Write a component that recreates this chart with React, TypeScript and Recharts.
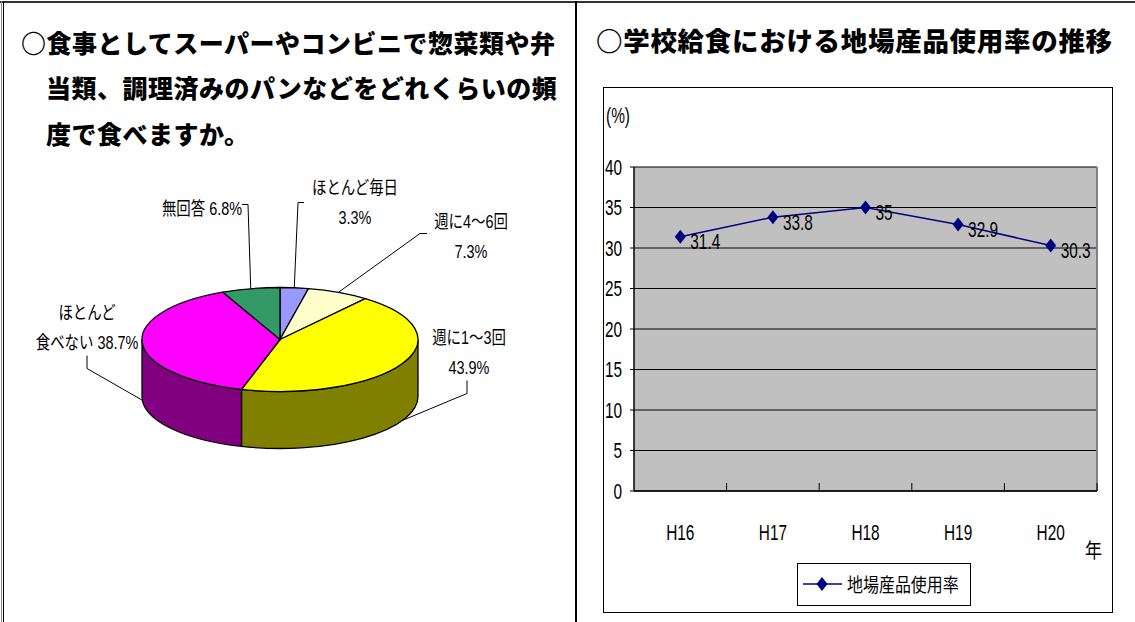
import React from "react";
import {
  CartesianGrid,
  LabelList,
  Line,
  LineChart,
  Pie,
  PieChart,
  XAxis,
  YAxis,
} from "recharts";

// 惣菜・弁当の購入頻度
const categories = ["ほとんど毎日", "週に4～6回", "週に1～3回", "ほとんど\n食べない", "無回答"];
const shares = [3.3, 7.3, 43.9, 38.7, 6.8];
const sliceColors = ["#9999FF", "#FFFFCC", "#FFFF00", "#FF00FF", "#339966"];

// 地場産品使用率
const years = ["H16", "H17", "H18", "H19", "H20"];
const rates = [31.4, 33.8, 35, 32.9, 30.3];
const rateTicks = [0, 5, 10, 15, 20, 25, 30, 35, 40];

const pieData = categories.map((name, i) => ({ name, value: shares[i], fill: sliceColors[i] }));
const lineData = years.map((year, i) => ({ year, rate: rates[i] }));

const SANS = "'Liberation Sans', 'Noto Sans CJK JP', sans-serif";
const JP = "'Noto Sans CJK JP', sans-serif";
const NAVY = "#000080";

// flattened pie
const TILT = 52 / 138;
const DEPTH = 57;

// label placement around the pie, relative to its centre: text, elbow, leader end
const labelLayout = [
  { tx: 75, ty: -152, ex: 18, ey: -137, fx: 24, fy: -137, inline: false },
  { tx: 191, ty: -118, ex: 140, ey: -106, fx: 147, fy: -106, inline: false },
  { tx: 189, ty: -2, ex: 187, ey: 54, fx: 187, fy: 41, inline: false },
  { tx: -193, ty: -27, ex: -193, ey: 29, fx: -193, fy: 16, inline: true },
  { tx: -78, ty: -131, ex: -32, ey: -135, fx: -38, fy: -135, inline: true },
];

function ellipsePoint(cx: number, cy: number, rx: number, ry: number, deg: number) {
  const r = (deg * Math.PI) / 180;
  return [cx + rx * Math.cos(r), cy - ry * Math.sin(r)];
}

function shade(hex: string, k: number) {
  const n = parseInt(hex.slice(1), 16);
  const r = Math.round(((n >> 16) & 255) * k);
  const g = Math.round(((n >> 8) & 255) * k);
  const b = Math.round((n & 255) * k);
  return `rgb(${r},${g},${b})`;
}

// condensed text: squeeze horizontally around the anchor point
function NarrowText(props: {
  x: number;
  y: number;
  size: number;
  squeeze: number;
  anchor?: "start" | "middle" | "end";
  family?: string;
  children: React.ReactNode;
}) {
  const { x, y, size, squeeze, anchor = "start", family = SANS, children } = props;
  return (
    <text
      transform={`translate(${x},${y}) scale(${squeeze},1)`}
      textAnchor={anchor}
      dominantBaseline="central"
      fontFamily={family}
      fontSize={size}
      fill="#000"
    >
      {children}
    </text>
  );
}

function Slice3D(props: any) {
  const { cx, cy, outerRadius, startAngle, endAngle, fill } = props;
  const rx = outerRadius;
  const ry = outerRadius * TILT;
  const [x0, y0] = ellipsePoint(cx, cy, rx, ry, startAngle);
  const [x1, y1] = ellipsePoint(cx, cy, rx, ry, endAngle);
  const large = Math.abs(startAngle - endAngle) > 180 ? 1 : 0;
  const cw = startAngle > endAngle ? 1 : 0;
  const top = `M${cx},${cy} L${x0},${y0} A${rx},${ry} 0 ${large} ${cw} ${x1},${y1} Z`;

  // only the front half of the rim is visible
  const hi = Math.min(Math.max(startAngle, endAngle), 0);
  const lo = Math.max(Math.min(startAngle, endAngle), -180);
  let side = null;
  if (hi > lo) {
    const [a, b] = ellipsePoint(cx, cy, rx, ry, hi);
    const [c, d] = ellipsePoint(cx, cy, rx, ry, lo);
    side = `M${a},${b} A${rx},${ry} 0 0 1 ${c},${d} L${c},${d + DEPTH} A${rx},${ry} 0 0 0 ${a},${b + DEPTH} Z`;
  }
  return (
    <g>
      {side && <path d={side} fill={shade(fill, 0.5)} stroke="#000" strokeWidth={1.3} />}
      <path d={top} fill={fill} stroke="#000" strokeWidth={1.3} />
    </g>
  );
}

function renderSliceLabel(props: any) {
  const { cx, cy, outerRadius, midAngle, index, value, name } = props;
  const lay = labelLayout[index];
  const [ax, topY] = ellipsePoint(cx, cy, outerRadius, outerRadius * TILT, midAngle);
  const ay = Math.sin((midAngle * Math.PI) / 180) < 0 ? topY + DEPTH : topY;
  const lines = String(name).split("\n");
  const pct = `${value}%`;
  if (lay.inline) lines[lines.length - 1] += " " + pct;
  else lines.push(pct);
  return (
    <g key={`lbl-${index}`}>
      <polyline
        points={`${ax},${ay} ${cx + lay.ex},${cy + lay.ey} ${cx + lay.fx},${cy + lay.fy}`}
        fill="none"
        stroke="#000"
        strokeWidth={1}
      />
      {lines.map((t, i) => (
        <NarrowText key={i} x={cx + lay.tx} y={cy + lay.ty + i * 30} size={18.5} squeeze={0.78} anchor="middle">
          {t}
        </NarrowText>
      ))}
    </g>
  );
}

function Diamond(props: any) {
  const { cx, cy, index } = props;
  return (
    <path
      key={`d-${index}`}
      d={`M${cx},${cy - 7} L${cx + 5.5},${cy} L${cx},${cy + 7} L${cx - 5.5},${cy} Z`}
      fill={NAVY}
    />
  );
}

function renderRateLabel(props: any) {
  const { x, y, value } = props;
  return (
    <NarrowText x={x + 10} y={y + 5} size={22} squeeze={0.7}>
      {value}
    </NarrowText>
  );
}

function renderRateTick(props: any) {
  const { x, y, payload } = props;
  return (
    <NarrowText x={x} y={y} size={22} squeeze={0.7} anchor="end">
      {payload.value}
    </NarrowText>
  );
}

function renderYearTick(props: any) {
  const { x, y, payload } = props;
  const half = payload.offset || 46;
  return (
    <g>
      <line x1={x + half} y1={y} x2={x + half} y2={y - 8} stroke="#000" />
      <NarrowText x={x} y={y + 41} size={22} squeeze={0.7} anchor="middle">
        {payload.value}
      </NarrowText>
    </g>
  );
}

const titleStyle: React.CSSProperties = {
  position: "absolute",
  fontFamily: JP,
  fontWeight: 900,
  fontSize: 25,
  letterSpacing: 0.5,
  lineHeight: "30px",
  whiteSpace: "nowrap",
  color: "#000",
};

const narrowHtml: React.CSSProperties = {
  position: "absolute",
  fontFamily: SANS,
  fontSize: 22,
  transform: "scaleX(0.7)",
  transformOrigin: "left center",
  whiteSpace: "nowrap",
};

export default function App() {
  return (
    <div
      style={{
        position: "absolute",
        left: 0,
        top: 0,
        width: 1135,
        height: 622,
        background: "#fff",
        overflow: "hidden",
      }}
    >
      {/* table rules */}
      <div style={{ position: "absolute", left: 0, top: 1, width: 1135, height: 2, background: "#333" }} />
      <div style={{ position: "absolute", left: 1, top: 1, width: 1, height: 621, background: "#888" }} />
      <div style={{ position: "absolute", left: 3, top: 1, width: 1, height: 621, background: "#000" }} />
      <div style={{ position: "absolute", left: 575, top: 1, width: 2, height: 621, background: "#000" }} />

      <div style={{ ...titleStyle, left: 21, top: 27 }}>○食事としてスーパーやコンビニで惣菜類や弁</div>
      <div style={{ ...titleStyle, left: 46, top: 72 }}>当類、調理済みのパンなどをどれくらいの頻</div>
      <div style={{ ...titleStyle, left: 46, top: 118 }}>度で食べますか。</div>

      <div style={{ position: "absolute", left: 0, top: 150 }}>
        <PieChart width={570} height={400} margin={{ top: 0, right: 0, bottom: 0, left: 0 }}>
          <Pie
            data={pieData}
            dataKey="value"
            nameKey="name"
            cx={280}
            cy={189.5}
            outerRadius={138}
            startAngle={90}
            endAngle={-270}
            shape={Slice3D}
            label={renderSliceLabel}
            labelLine={false}
            isAnimationActive={false}
          />
        </PieChart>
      </div>

      <div style={{ ...titleStyle, left: 596, top: 25, fontSize: 26.5, letterSpacing: 0.7 }}>
        ○学校給食における地場産品使用率の推移
      </div>

      <div
        style={{
          position: "absolute",
          left: 603,
          top: 87,
          width: 508,
          height: 524,
          border: "1px solid #000",
        }}
      />
      <div style={{ ...narrowHtml, left: 606, top: 103 }}>(%)</div>

      <div style={{ position: "absolute", left: 603, top: 87 }}>
        <LineChart width={509} height={525} data={lineData} margin={{ top: 80, right: 15, bottom: 81, left: 0 }}>
          <CartesianGrid fill="#C0C0C0" stroke="#000" vertical={false} strokeOpacity={1} />
          <CartesianGrid horizontal={false} verticalPoints={[494]} stroke="#808080" strokeWidth={2} />
          <XAxis
            dataKey="year"
            scale="band"
            axisLine={{ stroke: "#000", strokeWidth: 1.5 }}
            tickLine={false}
            tickSize={0}
            tickMargin={0}
            tick={renderYearTick}
            interval={0}
            height={40}
          />
          <YAxis
            domain={[0, 40]}
            ticks={rateTicks}
            width={31}
            axisLine={{ stroke: "#000", strokeWidth: 1.5 }}
            tickLine={{ stroke: "#000" }}
            tickSize={4}
            tickMargin={8}
            tick={renderRateTick}
          />
          <Line
            dataKey="rate"
            stroke={NAVY}
            strokeWidth={1.5}
            dot={Diamond}
            activeDot={false}
            isAnimationActive={false}
          >
            <LabelList dataKey="rate" content={renderRateLabel} />
          </Line>
        </LineChart>
      </div>

      <div style={{ ...narrowHtml, left: 1085, top: 535, fontFamily: JP, fontSize: 20, transform: "scaleX(0.85)" }}>
        年
      </div>

      {/* legend */}
      <div
        style={{
          position: "absolute",
          left: 797,
          top: 563,
          width: 172,
          height: 41,
          border: "1px solid #000",
          background: "#fff",
        }}
      >
        <svg width={46} height={20} style={{ position: "absolute", left: 4, top: 10 }}>
          <line x1={1} y1={10} x2={40} y2={10} stroke={NAVY} strokeWidth={1.5} />
          <path d="M20,3 L25.5,10 L20,17 L14.5,10 Z" fill={NAVY} />
        </svg>
        <div
          style={{
            position: "absolute",
            left: 49,
            top: 7,
            fontFamily: JP,
            fontSize: 19,
            lineHeight: "26px",
            whiteSpace: "nowrap",
            transform: "scaleX(0.84)",
            transformOrigin: "left center",
          }}
        >
          地場産品使用率
        </div>
      </div>
    </div>
  );
}
